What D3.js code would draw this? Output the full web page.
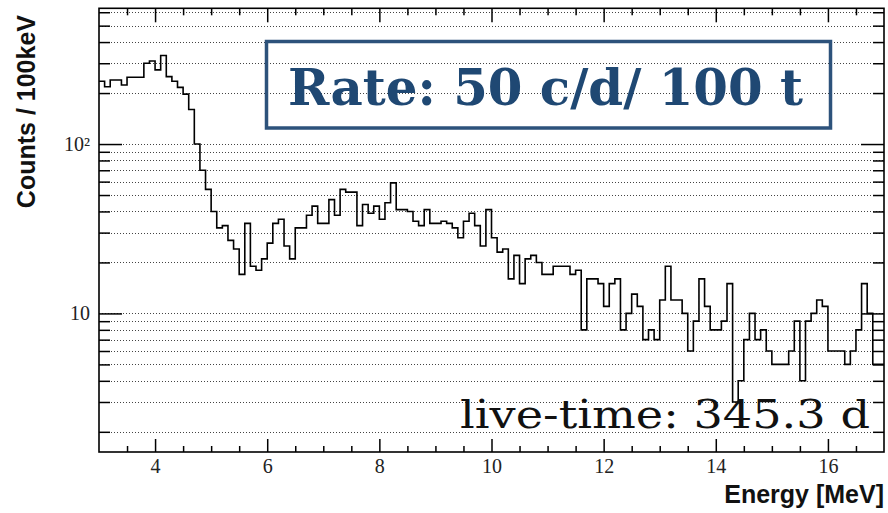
<!DOCTYPE html>
<html>
<head>
<meta charset="utf-8">
<script src="https://cdn.jsdelivr.net/npm/d3@7"></script>
<style>
  body { margin: 0; background: #fff; }
  svg { display: block; }
</style>
</head>
<body>
<div id="chart"></div>
<script>
// histogram: 100 keV bins starting at 3 MeV
const binStart = 3.0;
const binWidth = 0.1;
const counts = [
    235, 218, 239, 239, 223, 248, 248, 248, 300, 309,
    274, 333, 250, 235, 216, 197, 160, 100, 70, 54,
    40, 32, 33, 27, 24, 17, 34, 19, 18, 21,
    26, 34, 36, 25, 21, 32, 32, 38, 43, 34,
    34, 47, 38, 54, 52, 52, 33, 44, 39, 43,
    36, 45, 59, 41, 41, 40, 35, 33, 41, 34,
    34, 35, 34, 32, 28, 35, 39, 33, 25, 41,
    28, 23, 24, 16, 22, 15, 21, 22, 20, 17,
    17, 19, 19, 19, 17, 18, 8, 16, 16, 15,
    11, 15, 16, 8, 10, 13, 11, 7, 8, 7,
    12, 19, 12, 12, 10, 6, 9, 16, 11, 8,
    8, 9, 15, 3, 4, 7, 10, 7, 8, 6,
    5, 5, 5, 6, 9, 4, 9, 10, 12, 11,
    6, 6, 6, 5, 6, 8, 15, 10, 5, 5
];

const xMajorTicks = [4, 6, 8, 10, 12, 14, 16];
const xMinorTicks = [3.5, 4.5, 5, 5.5, 6.5, 7, 7.5, 8.5, 9, 9.5, 10.5, 11, 11.5,
                     12.5, 13, 13.5, 14.5, 15, 15.5, 16.5];
const yMajorTicks = [10, 100];
const yMinorTicks = [2, 3, 4, 5, 6, 7, 8, 9, 20, 30, 40, 50, 60, 70, 80, 90,
                     200, 300, 400, 500, 600];
const yTickLabels = { 10: '10', 100: '10\u00b2' };

const xDomain = [3, 17];
const yDomain = [1.52, 633];

const rateText = 'Rate: 50 c/d/ 100 t';
const liveText = 'live-time: 345.3 d';

const width = 888, height = 513;
const frame = { left: 99, right: 884, top: 8.3, bottom: 452 };

const svg = d3.select('#chart').append('svg')
    .attr('width', width)
    .attr('height', height);

const x = d3.scaleLinear().domain(xDomain).range([frame.left, frame.right]);
const y = d3.scaleLog().domain(yDomain).range([frame.bottom, frame.top]);

// dotted horizontal grid
const gridVals = [...yMinorTicks, ...yMajorTicks].sort((a, b) => a - b);
svg.append('g')
    .selectAll('line')
    .data(gridVals)
    .join('line')
    .attr('x1', frame.left)
    .attr('x2', frame.right)
    .attr('y1', d => Math.round(y(d)) + 0.5)
    .attr('y2', d => Math.round(y(d)) + 0.5)
    .attr('stroke', '#444')
    .attr('stroke-width', 1)
    .attr('stroke-dasharray', '1 2');

// rate box (no fill, grid shows through)
svg.append('rect')
    .attr('x', 266.5)
    .attr('y', 41.5)
    .attr('width', 564)
    .attr('height', 86.5)
    .attr('fill', 'none')
    .attr('stroke', '#2d527b')
    .attr('stroke-width', 3.5);

svg.append('text')
    .attr('x', 288)
    .attr('y', 105)
    .attr('font-family', '"DejaVu Serif", serif')
    .attr('font-weight', 'bold')
    .attr('font-size', 50)
    .attr('fill', '#1f4873')
    .attr('textLength', 515)
    .attr('lengthAdjust', 'spacingAndGlyphs')
    .text(rateText);

// histogram outline
const steps = counts.flatMap((c, i) => [
    [binStart + i * binWidth, c],
    [binStart + (i + 1) * binWidth, c]
]);
const line = d3.line()
    .x(d => x(d[0]))
    .y(d => y(d[1]));

svg.append('path')
    .datum(steps)
    .attr('d', line)
    .attr('fill', 'none')
    .attr('stroke', '#000')
    .attr('stroke-width', 1.6);

// axes
const tickFont = g => g.selectAll('text')
    .attr('font-family', '"Liberation Serif", "Times New Roman", serif')
    .attr('font-size', 20)
    .attr('fill', '#222');

svg.append('g')
    .attr('transform', `translate(0, ${frame.bottom})`)
    .call(d3.axisBottom(x).tickValues(xMajorTicks).tickSize(-13).tickPadding(7).tickFormat(d3.format('d')))
    .call(tickFont);
svg.append('g')
    .attr('transform', `translate(0, ${frame.bottom})`)
    .call(d3.axisBottom(x).tickValues(xMinorTicks).tickSize(-6).tickFormat(''));
svg.append('g')
    .attr('transform', `translate(0, ${frame.top})`)
    .call(d3.axisTop(x).tickValues(xMajorTicks).tickSize(-14).tickFormat(''));
svg.append('g')
    .attr('transform', `translate(0, ${frame.top})`)
    .call(d3.axisTop(x).tickValues(xMinorTicks).tickSize(-7).tickFormat(''));

svg.append('g')
    .attr('transform', `translate(${frame.left}, 0)`)
    .call(d3.axisLeft(y).tickValues(yMajorTicks).tickSize(-23).tickPadding(9).tickFormat(d => yTickLabels[d]))
    .call(tickFont);
svg.append('g')
    .attr('transform', `translate(${frame.left}, 0)`)
    .call(d3.axisLeft(y).tickValues(yMinorTicks).tickSize(-11).tickFormat(''));
svg.append('g')
    .attr('transform', `translate(${frame.right}, 0)`)
    .call(d3.axisRight(y).tickValues(yMajorTicks).tickSize(-23).tickFormat(''));
svg.append('g')
    .attr('transform', `translate(${frame.right}, 0)`)
    .call(d3.axisRight(y).tickValues(yMinorTicks).tickSize(-11).tickFormat(''));

svg.selectAll('.domain').remove();
svg.selectAll('.tick line').attr('stroke', '#000').attr('stroke-width', 1.5);

// frame
svg.append('rect')
    .attr('x', frame.left)
    .attr('y', frame.top)
    .attr('width', frame.right - frame.left)
    .attr('height', frame.bottom - frame.top)
    .attr('fill', 'none')
    .attr('stroke', '#000')
    .attr('stroke-width', 1.6);

// titles
svg.append('text')
    .attr('transform', 'translate(35, 15) rotate(-90)')
    .attr('text-anchor', 'end')
    .attr('font-family', '"Liberation Sans", Arial, sans-serif')
    .attr('font-weight', 'bold')
    .attr('font-size', 25)
    .attr('fill', '#111')
    .text('Counts / 100keV');

svg.append('text')
    .attr('x', frame.right)
    .attr('y', 503)
    .attr('text-anchor', 'end')
    .attr('font-family', '"Liberation Sans", Arial, sans-serif')
    .attr('font-weight', 'bold')
    .attr('font-size', 25)
    .attr('fill', '#111')
    .text('Energy [MeV]');

svg.append('text')
    .attr('x', 460)
    .attr('y', 428)
    .attr('font-family', '"DejaVu Serif", "Liberation Serif", serif')
    .attr('font-size', 40)
    .attr('fill', '#111')
    .attr('textLength', 410)
    .attr('lengthAdjust', 'spacingAndGlyphs')
    .text(liveText);
</script>
</body>
</html>
